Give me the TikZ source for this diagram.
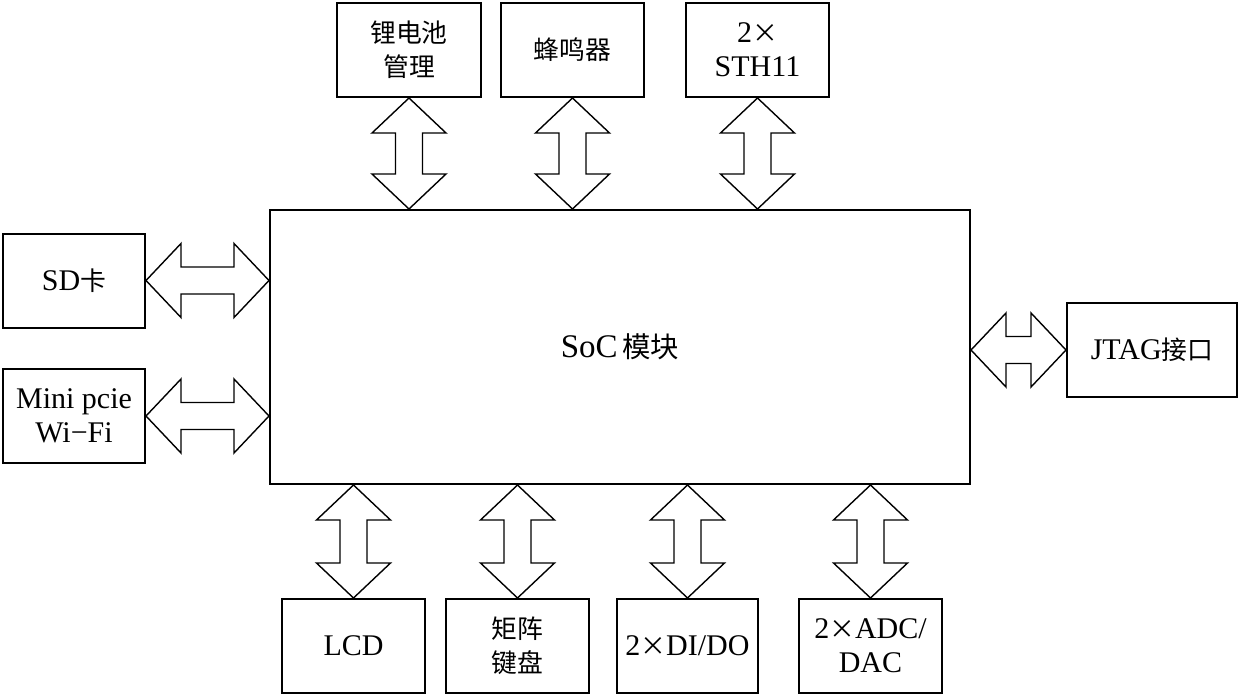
\documentclass[tikz,border=0pt]{standalone}
\usepackage{fontspec}
\setmainfont{Liberation Serif}
\newfontfamily\cjk[Scale=0.86]{Noto Sans CJK SC}
\usetikzlibrary{calc,positioning}

% hollow double-headed block arrow between two named points
\newcommand{\dblarrow}[2]{%
  \coordinate (h1) at ($(#1)!17.5pt!(#2)$);
  \coordinate (h2) at ($(#2)!17.5pt!(#1)$);
  \draw[biarrow] (#1)
    -- ($(h1)!18.5pt!90:(#2)$) -- ($(h1)!6.75pt!90:(#2)$)
    -- ($(h2)!6.75pt!-90:(#1)$) -- ($(h2)!18.5pt!-90:(#1)$)
    -- (#2)
    -- ($(h2)!18.5pt!90:(#1)$) -- ($(h2)!6.75pt!90:(#1)$)
    -- ($(h1)!6.75pt!-90:(#2)$) -- ($(h1)!18.5pt!-90:(#2)$)
    -- cycle;
}

\begin{document}
\begin{tikzpicture}[
  x=0.5pt, y=-0.5pt,
  font=\fontsize{15pt}{17pt}\selectfont,
  box/.style={draw, line width=1pt, align=center, inner sep=0pt,
              minimum width=71.5pt, minimum height=47pt},
  socbox/.style={draw, line width=1pt, inner sep=0pt,
                 minimum width=350pt, minimum height=137pt,
                 font=\fontsize{16.5pt}{19pt}\selectfont},
  biarrow/.style={draw, fill=white, line width=0.7pt, line join=miter},
]
\useasboundingbox (0,0) rectangle (1242,696);

%% ---------- central module ----------
\node[socbox] (soc) at (620,347) {SoC{\cjk\,模块}};

%% ---------- top row ----------
\node[box, minimum width=72pt] (batt) at (409,50) {{\cjk 锂电池}\\{\cjk 管理}};
\node[box] (buzz) at (572.5,50) {{\cjk 蜂鸣器}};
\node[box] (sth) at (757.5,50) {2{\cjk ×}\\STH11};

%% ---------- left / right ----------
\node[box, minimum width=71pt] (sd) at (74,280.5) {SD{\cjk 卡}};
\node[box, minimum width=71pt] (wifi) at (74,416) {Mini pcie\\Wi−Fi};
\node[box, minimum width=85pt] (jtag) at (1152,350) {JTAG{\cjk 接口}};

%% ---------- bottom row ----------
\node[box] (lcd) at (353.5,646) {LCD};
\node[box] (keypad) at (517.5,646) {{\cjk 矩阵}\\{\cjk 键盘}};
\node[box, minimum width=70.5pt] (dido) at (687.5,646) {2{\cjk ×}DI/DO};
\node[box] (adc) at (870.5,646) {2{\cjk ×}ADC/\\DAC};

%% ---------- connectors ----------
\coordinate (battin) at (batt.south |- soc.north);
\coordinate (buzzin) at (buzz.south |- soc.north);
\coordinate (sthin)  at (sth.south |- soc.north);
\coordinate (sdin)   at (sd.east -| soc.west);
\coordinate (wifiin) at (wifi.east -| soc.west);
\coordinate (jtagin) at (jtag.west -| soc.east);
\coordinate (lcdin)  at (lcd.north |- soc.south);
\coordinate (keyin)  at (keypad.north |- soc.south);
\coordinate (dioin)  at (dido.north |- soc.south);
\coordinate (adcin)  at (adc.north |- soc.south);

\foreach \a/\b in {batt.south/battin, buzz.south/buzzin, sth.south/sthin,
                   sd.east/sdin, wifi.east/wifiin, jtag.west/jtagin,
                   lcd.north/lcdin, keypad.north/keyin, dido.north/dioin,
                   adc.north/adcin}
  {\dblarrow{\a}{\b}}

\end{tikzpicture}
\end{document}
